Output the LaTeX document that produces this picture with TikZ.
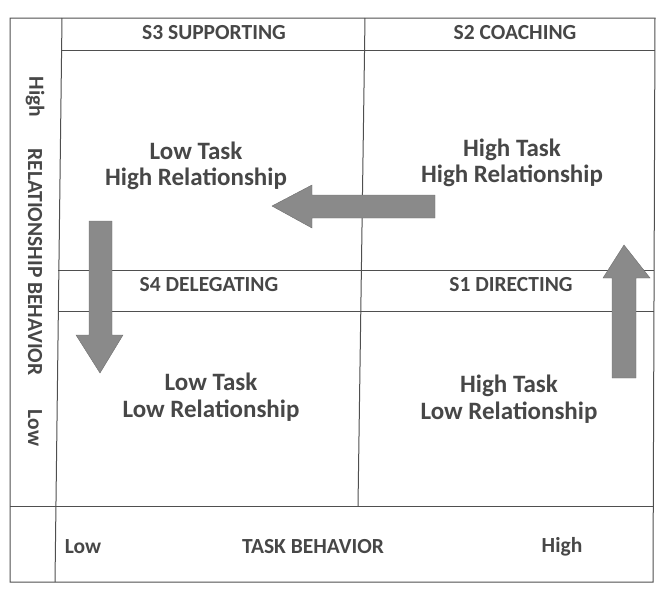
\documentclass[tikz,border=0pt]{standalone}
\usepackage{fontspec}
\setmainfont{Carlito}
\definecolor{txt}{HTML}{474747}
\definecolor{ln}{HTML}{4F4F4F}
\definecolor{arr}{HTML}{8A8A8A}
\begin{document}
\begin{tikzpicture}[x=1pt,y=-1pt,
  grid/.style={draw=ln,line width=1pt},
  hdr/.style={text=txt,font=\bfseries\fontsize{21.5}{24}\selectfont,inner sep=0pt},
  quad/.style={text=txt,font=\bfseries\fontsize{25}{26.5}\selectfont,align=center,inner sep=0pt},
  axis/.style={text=txt,font=\bfseries\fontsize{21.5}{24}\selectfont,inner sep=0pt},
  blockarrow/.style={fill=arr,draw=arr!80!black,line width=0.4pt}]
\useasboundingbox (0,0) rectangle (657,589);
% grid
\draw[grid] (10,18) -- (655,18) -- (653,582) -- (10,582) -- cycle;
\draw[grid] (62,18) -- (55,582);
\draw[grid] (62,50) -- (655,50);
\draw[grid] (365,18) -- (358,506);
\draw[grid] (58,270) -- (654,270);
\draw[grid] (58,311) -- (654,311);
\draw[grid] (10,506) -- (653,506);
% headers
\node[hdr] (s3) at (214,33) {S3 SUPPORTING};
\node[hdr] (s2) at (515,33) {S2 COACHING};
\node[hdr] (s4) at (209,285) {S4 DELEGATING};
\node[hdr] (s1) at (511,285) {S1 DIRECTING};
% quadrant labels
\node[quad] (q3) at (196,166) {Low Task\\High Relationship};
\node[quad] (q2) at (512,163) {High Task\\High Relationship};
\node[quad] (q4) at (211,397) {Low Task\\Low Relationship};
\node[quad] (q1) at (509,399) {High Task\\Low Relationship};
% axis labels
\node[axis] (xlow) at (83,547) {Low};
\node[axis] (xlab) at (313,547) {TASK BEHAVIOR};
\node[axis] (xhigh) at (562,547) {High};
\node[axis,rotate=-90] (yhigh) at (35,97) {High};
\node[axis,rotate=-90] (ylab) at (35,262) {RELATIONSHIP BEHAVIOR};
\node[axis,rotate=-90] (ylow) at (35,428) {Low};
% arrows
\fill[blockarrow] (435,195) -- (312,195) -- (312,185) -- (272,206) -- (312,228) -- (312,218) -- (435,218) -- cycle;
\fill[blockarrow] (89,221) -- (112,221) -- (112,335) -- (123,335) -- (100,373) -- (76,335) -- (89,335) -- cycle;
\fill[blockarrow] (612,378) -- (636,378) -- (636,278) -- (650,278) -- (624,245) -- (603,278) -- (612,278) -- cycle;
\end{tikzpicture}
\end{document}
